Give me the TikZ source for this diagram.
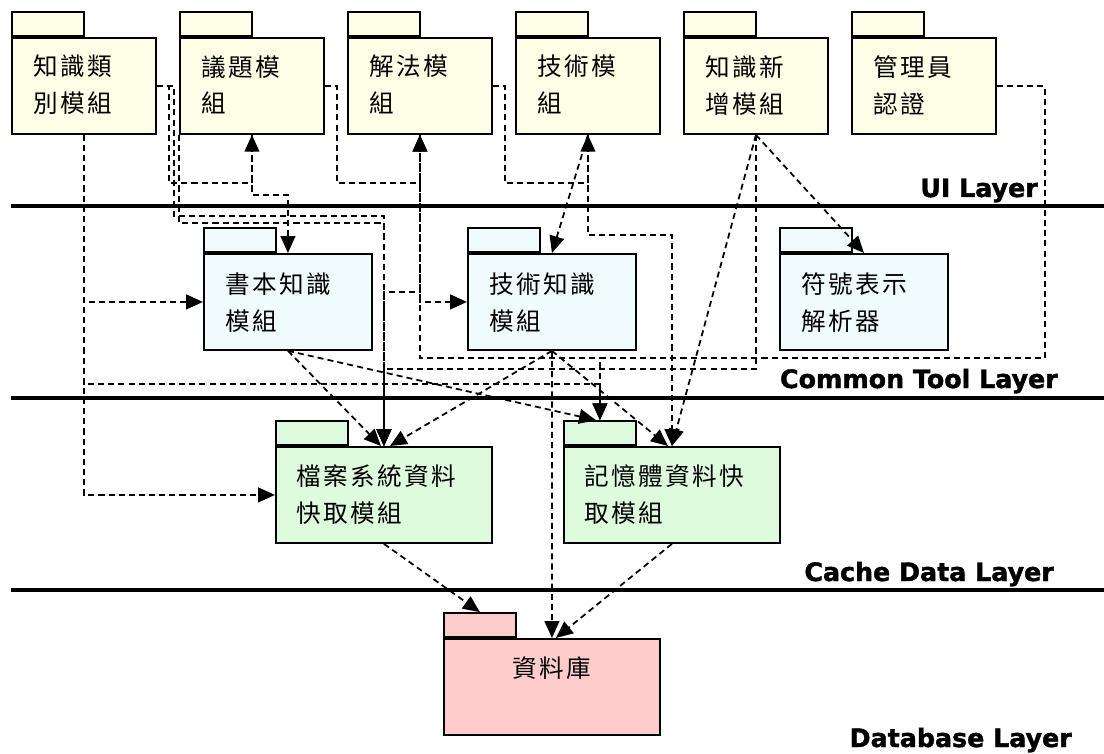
\documentclass[tikz,border=0pt]{standalone}
\usepackage{fontspec}
\newfontfamily\cjk[LetterSpace=10]{Noto Sans CJK TC}
\newfontfamily\layerfont[BoldFeatures={FakeBold=1.5}]{DejaVu Sans}
\usetikzlibrary{arrows.meta,positioning,calc}
\definecolor{uifill}{RGB}{255,255,232}
\definecolor{ctfill}{RGB}{240,251,253}
\definecolor{cachefill}{RGB}{222,251,222}
\definecolor{dbfill}{RGB}{255,204,204}
\tikzset{
  pkg/.style={draw, line width=1.3pt, inner sep=0pt, anchor=north west, minimum height=2.4cm},
  uipkg/.style={pkg, fill=uifill, minimum width=3.6cm},
  ctpkg/.style={pkg, fill=ctfill, minimum width=4.2cm},
  cachepkg/.style={pkg, fill=cachefill, minimum width=5.4cm},
  dbpkg/.style={pkg, fill=dbfill, minimum width=5.4cm},
  pkgtab/.style={draw, line width=1.3pt, inner sep=0pt, anchor=south west, minimum width=1.8cm, minimum height=0.6cm},
  pkgtext/.style={font=\cjk\fontsize{17.5pt}{26.3pt}\selectfont, align=left, inner sep=0pt},
  dep/.style={line width=1.25pt, dash pattern=on 4.3pt off 2.9pt, -{Triangle[length=12pt,width=10.5pt]}},
  layerline/.style={line width=2.6pt},
  layerlabel/.style={font=\layerfont\bfseries\fontsize{18pt}{20pt}\selectfont, anchor=base east, inner sep=0pt}
}
\begin{document}
\begin{tikzpicture}[x=0.025cm,y=-0.025cm]
      \useasboundingbox (0,0) rectangle (1104,754);
      \draw[layerline] (11,206) -- (1104,206);
      \draw[layerline] (11,398) -- (1104,398);
      \draw[layerline] (11,590) -- (1104,590);
      \node[layerlabel] (uil) at (1038,197) {UI Layer};
      \node[layerlabel] (ctl) at (1058,388) {Common Tool Layer};
      \node[layerlabel] (cdl) at (1054,581) {Cache Data Layer};
      \node[layerlabel] (dbl) at (1072,747) {Database Layer};
      \node[uipkg] (kc) at (11,37) {};
      \node[uipkg] (yt) at (179,37) {};
      \node[uipkg] (jf) at (347,37) {};
      \node[uipkg] (js) at (515,37) {};
      \node[uipkg] (xz) at (683,37) {};
      \node[uipkg] (gl) at (851,37) {};
      \node[ctpkg] (sb) at (203,253) {};
      \node[ctpkg] (jz) at (467,253) {};
      \node[ctpkg] (fh) at (779,253) {};
      \node[cachepkg] (da) at (275,446) {};
      \node[cachepkg] (jy) at (563,446) {};
      \node[dbpkg] (db) at (443,638) {};
      \node[pkgtab, fill=uifill] (kc-tab) at (kc.north west) {};
      \node[pkgtab, fill=uifill] (yt-tab) at (yt.north west) {};
      \node[pkgtab, fill=uifill] (jf-tab) at (jf.north west) {};
      \node[pkgtab, fill=uifill] (js-tab) at (js.north west) {};
      \node[pkgtab, fill=uifill] (xz-tab) at (xz.north west) {};
      \node[pkgtab, fill=uifill] (gl-tab) at (gl.north west) {};
      \node[pkgtab, fill=ctfill] (sb-tab) at (sb.north west) {};
      \node[pkgtab, fill=ctfill] (jz-tab) at (jz.north west) {};
      \node[pkgtab, fill=ctfill] (fh-tab) at (fh.north west) {};
      \node[pkgtab, fill=cachefill] (da-tab) at (da.north west) {};
      \node[pkgtab, fill=cachefill] (jy-tab) at (jy.north west) {};
      \node[pkgtab, fill=dbfill] (db-tab) at (db.north west) {};
      \node[pkgtext, below right=0.45cm and 0.55cm of kc.north west] (kc-txt) {知識類\\別模組};
      \node[pkgtext, below right=0.45cm and 0.55cm of yt.north west] (yt-txt) {議題模\\組};
      \node[pkgtext, below right=0.45cm and 0.55cm of jf.north west] (jf-txt) {解法模\\組};
      \node[pkgtext, below right=0.45cm and 0.55cm of js.north west] (js-txt) {技術模\\組};
      \node[pkgtext, below right=0.45cm and 0.55cm of xz.north west] (xz-txt) {知識新\\增模組};
      \node[pkgtext, below right=0.45cm and 0.55cm of gl.north west] (gl-txt) {管理員\\認證};
      \node[pkgtext, below right=0.48cm and 0.55cm of sb.north west] (sb-txt) {書本知識\\模組};
      \node[pkgtext, below right=0.48cm and 0.55cm of jz.north west] (jz-txt) {技術知識\\模組};
      \node[pkgtext, below right=0.48cm and 0.55cm of fh.north west] (fh-txt) {符號表示\\解析器};
      \node[pkgtext, below right=0.46cm and 0.52cm of da.north west] (da-txt) {檔案系統資料\\快取模組};
      \node[pkgtext, below right=0.46cm and 0.52cm of jy.north west] (jy-txt) {記憶體資料快\\取模組};
      \node[pkgtext, below=0.46cm of db.north] (db-txt) {資料庫};
      \begin{scope}[dep]
        \draw (kc.east) -- ++(12,0) -- ++(0,97) -| (yt.south);
        \draw (kc.east) -- ++(17,0) -- ++(0,130) -| (da.north);
        \draw (yt.south west) -- ++(0,88) -| (da.north);
        \draw (yt.south) -- ++(0,60) -| (sb.north);
        \draw (yt.east) -- ++(12,0) -- ++(0,97) -| (jf.south);
        \draw (jf.east) -- ++(12,0) -- ++(0,97) -| (js.south);
        \draw (js.south) -- (jz.north);
        \draw (js.south) -- ++(0,100) -| (jy.north);
        \draw (xz.south) -- (fh.north);
        \draw (xz.south) -- (jy.north);
        \draw (xz.south) -- ++(0,234) -| (da.north);
        \draw (gl.east) -- ++(48,0) -- ++(0,272) -| (jf.south);
        \draw (gl.east) -- ++(48,0) -- ++(0,272) -| (jy-tab.north);
        \draw (jf.south) |- (jz.west);
        \draw (jf.south) -- ++(0,157) -| (da.north);
        \draw (kc.south) |- (sb.west);
        \draw (kc.south) |- (da.west);
        \draw (kc.south) -- ++(0,249) -| (jy-tab.north);
        \draw (sb.south) -- ($(da.north)+(-3,0)$);
        \draw (sb.south) -- ($(jy-tab.north)+(-4,0)$);
        \draw (jz.south) -- ($(da.north)+(6,0)$);
        \draw (jz.south) -- ($(jy.north)+(-4,0)$);
        \draw (jz.south) -- (db.north);
        \draw (da.south) -- (db-tab.north);
        \draw (jy.south) -- ($(db.north)+(4,0)$);
      \end{scope}
    \end{tikzpicture}
\end{document}
